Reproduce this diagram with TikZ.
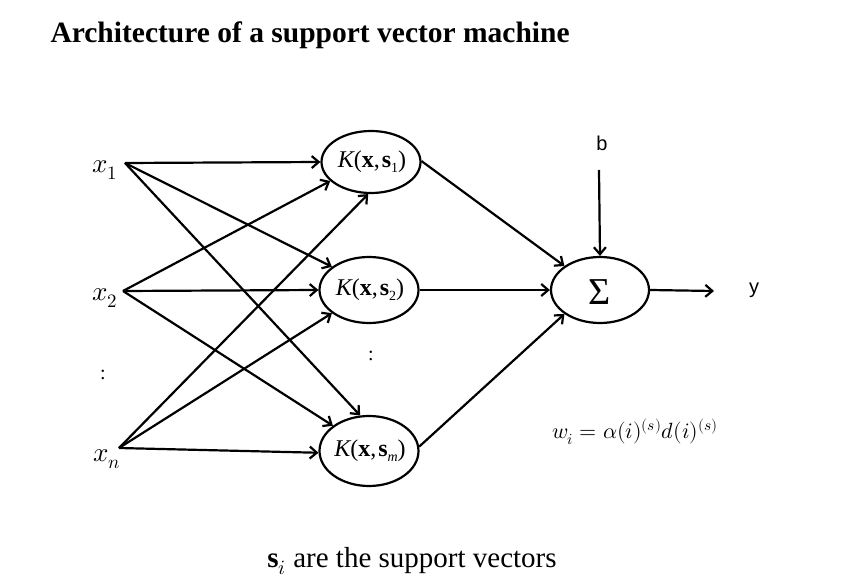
\documentclass[tikz,border=0pt]{standalone}
\usepackage{fontspec}
\usepackage{unicode-math}
\setmainfont{Liberation Serif}
\setmathfont{Latin Modern Math}
\newfontfamily\arialf{Liberation Sans}
\usetikzlibrary{shapes.geometric,arrows.meta}
\newcommand{\klab}[1]{\itshape K\upshape(\textbf{x},\kern2pt\textbf{s}\raisebox{-5pt}{\fontsize{14}{14}\selectfont #1})}
\begin{document}
\begin{tikzpicture}[x=1pt,y=-1pt,
  conn/.style={line width=2.2pt,-{Straight Barb[length=7pt,width=12pt,line width=2.2pt]}},
  kern/.style={ellipse,draw,line width=2.2pt,minimum width=99pt,minimum height=62pt,inner sep=0pt},
  ktext/.style={font=\fontsize{24}{28}\selectfont},
  inlab/.style={font=\fontsize{27}{30}\selectfont},
  sflab/.style={font=\arialf\fontsize{20}{24}\selectfont}]
\useasboundingbox (0,0) rectangle (860,580);
\node[anchor=west,font=\bfseries\fontsize{29.5}{32}\selectfont] (title) at (47,35) {Architecture of a support vector machine};

% inputs
\node[inlab] (x1) at (105,170) {$x_1$};
\node[inlab] (x2) at (105,298) {$x_2$};
\node[inlab] (xn) at (107,459) {$x_n$};
\node[font=\fontsize{20}{24}\selectfont] (vd1) at (103,375) {:};
\coordinate (s1) at (125,163);
\coordinate (s2) at (123,291);
\coordinate (sn) at (119,448);

% kernels
\node[kern] (K1) at (371,162) {};
\node[kern,minimum height=66pt] (K2) at (369,290) {};
\node[kern,minimum height=70pt] (Km) at (369,451) {};
\node[ktext] (K1t) at (372,162) {\klab{1}};
\node[ktext] (K2t) at (370,290) {\klab{2}};
\node[ktext] (Kmt) at (370,451) {\klab{\itshape m}};
\node[font=\fontsize{20}{24}\selectfont] (vd2) at (371,356) {:};

% sum
\node[ellipse,draw,line width=2.2pt,minimum width=98pt,minimum height=66pt,inner sep=0pt] (S) at (600,290) {};
\node[font=\fontsize{38}{40}\selectfont] (St) at (600,292) {Σ};
\node[sflab] (b) at (602,143) {b};
\coordinate (bs) at (599,170);
\coordinate (ye) at (714,291);
\node[sflab] (y) at (754,290) {y};

% input connections
\draw[conn] (s1) -- (K1.west);
\draw[conn] (s1) -- (K2.148);
\draw[conn] (s1) -- (Km.104);
\draw[conn] (s2) -- (K1.205);
\draw[conn] (s2) -- (K2.west);
\draw[conn] (s2) -- (Km.145);
\draw[conn] (sn) -- (K1.265);
\draw[conn] (sn) -- (K2.212);
\draw[conn] (sn) -- (Km.182);

% kernel to sum
\draw[conn] (K1.1) -- (S.146);
\draw[conn] (K2.east) -- (S.west);
\draw[conn] (Km.5) -- (S.214);
\draw[conn] (bs) -- (S.north);
\draw[conn] (S.east) -- (ye);

\node[font=\fontsize{22}{26}\selectfont] (w) at (635,432) {$w_i = \alpha(i)^{(s)} d(i)^{(s)}$};
\node[font=\fontsize{29}{32}\selectfont] (foot) at (412,561) {\textbf{s}$_i$ are the support vectors};
\end{tikzpicture}
\end{document}
